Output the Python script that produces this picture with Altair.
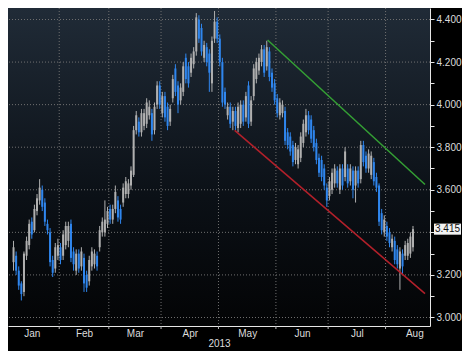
import json
import altair as alt
import pandas as pd

# ---------------- data ----------------
start_index = 3  # trading-day index of first candle (0 = 2 Jan 2013)

opens = [3.26, 3.29, 3.22, 3.16, 3.12, 3.29, 3.34, 3.45, 3.41, 3.50,
         3.55, 3.60, 3.54, 3.44, 3.40, 3.27, 3.23, 3.29, 3.33, 3.29,
         3.34, 3.36, 3.44, 3.31, 3.22, 3.30, 3.24, 3.28, 3.20, 3.17,
         3.24, 3.25, 3.29, 3.33, 3.40, 3.40, 3.44, 3.51, 3.46, 3.51,
         3.55, 3.51, 3.54, 3.58, 3.58, 3.62, 3.67, 3.88, 3.92, 3.87,
         3.90, 3.91, 3.95, 3.96, 3.88, 4.00, 4.09, 3.96, 4.04, 3.99,
         3.92, 4.03, 4.17, 4.09, 4.02, 4.06, 4.22, 4.18, 4.15, 4.19,
         4.25, 4.40, 4.36, 4.22, 4.27, 4.24, 4.10, 4.31, 4.39, 4.31,
         4.20, 4.06, 3.95, 3.99, 3.92, 3.97, 3.89, 3.91, 4.00, 3.94,
         4.09, 3.92, 4.04, 4.12, 4.16, 4.20, 4.26, 4.18, 4.25, 4.15,
         4.10, 4.03, 3.95, 3.96, 3.97, 3.87, 3.85, 3.81, 3.74, 3.72,
         3.75, 3.82, 3.87, 3.95, 3.93, 3.88, 3.82, 3.75, 3.74, 3.70,
         3.61, 3.57, 3.60, 3.63, 3.69, 3.60, 3.70, 3.66, 3.70, 3.64,
         3.69, 3.62, 3.69, 3.65, 3.81, 3.76, 3.70, 3.67, 3.73, 3.66,
         3.62, 3.49, 3.40, 3.43, 3.40, 3.33, 3.36, 3.32, 3.23, 3.30,
         3.29, 3.29, 3.30, 3.33]
highs = [3.36, 3.31, 3.24, 3.17, 3.31, 3.38, 3.46, 3.47, 3.53, 3.58,
         3.65, 3.62, 3.56, 3.46, 3.42, 3.29, 3.35, 3.37, 3.35, 3.41,
         3.45, 3.45, 3.46, 3.33, 3.32, 3.32, 3.33, 3.30, 3.22, 3.29,
         3.33, 3.32, 3.31, 3.43, 3.47, 3.55, 3.52, 3.53, 3.53, 3.62,
         3.57, 3.53, 3.63, 3.66, 3.65, 3.71, 3.90, 3.97, 3.94, 3.98,
         3.98, 4.03, 4.02, 3.98, 4.01, 4.11, 4.11, 4.06, 4.06, 4.01,
         4.00, 4.14, 4.19, 4.11, 4.10, 4.20, 4.24, 4.20, 4.24, 4.27,
         4.43, 4.42, 4.38, 4.30, 4.29, 4.26, 4.32, 4.44, 4.41, 4.33,
         4.22, 4.08, 4.01, 4.01, 3.99, 3.99, 4.01, 4.02, 4.02, 4.06,
         4.11, 4.04, 4.19, 4.22, 4.24, 4.28, 4.28, 4.30, 4.27, 4.17,
         4.12, 4.05, 4.03, 4.02, 3.99, 3.89, 3.87, 3.83, 3.82, 3.81,
         3.87, 3.93, 3.98, 3.97, 3.95, 3.90, 3.84, 3.77, 3.76, 3.72,
         3.63, 3.66, 3.70, 3.72, 3.71, 3.72, 3.72, 3.80, 3.72, 3.72,
         3.71, 3.71, 3.71, 3.83, 3.83, 3.78, 3.79, 3.78, 3.75, 3.68,
         3.63, 3.51, 3.48, 3.45, 3.42, 3.39, 3.38, 3.34, 3.33, 3.32,
         3.36, 3.37, 3.40, 3.43]
lows = [3.22, 3.20, 3.13, 3.08, 3.10, 3.27, 3.32, 3.37, 3.40, 3.48,
        3.53, 3.50, 3.43, 3.39, 3.24, 3.19, 3.21, 3.27, 3.25, 3.27,
        3.32, 3.33, 3.26, 3.22, 3.20, 3.21, 3.22, 3.12, 3.12, 3.15,
        3.22, 3.23, 3.22, 3.31, 3.38, 3.38, 3.42, 3.44, 3.44, 3.49,
        3.45, 3.44, 3.52, 3.56, 3.56, 3.60, 3.66, 3.86, 3.85, 3.85,
        3.88, 3.89, 3.93, 3.83, 3.86, 3.98, 3.98, 3.94, 3.92, 3.88,
        3.90, 4.01, 4.04, 3.96, 4.00, 4.04, 4.10, 4.08, 4.13, 4.17,
        4.23, 4.29, 4.23, 4.20, 4.18, 4.06, 4.06, 4.29, 4.29, 4.18,
        3.99, 3.98, 3.93, 3.89, 3.88, 3.88, 3.87, 3.89, 3.90, 3.92,
        3.89, 3.90, 4.02, 4.10, 4.14, 4.18, 4.13, 4.16, 4.11, 4.06,
        4.00, 3.94, 3.93, 3.94, 3.81, 3.79, 3.76, 3.71, 3.72, 3.70,
        3.73, 3.80, 3.85, 3.86, 3.82, 3.78, 3.72, 3.66, 3.64, 3.60,
        3.52, 3.55, 3.58, 3.61, 3.61, 3.58, 3.60, 3.64, 3.61, 3.62,
        3.56, 3.54, 3.61, 3.63, 3.71, 3.68, 3.68, 3.65, 3.62, 3.59,
        3.43, 3.39, 3.38, 3.36, 3.33, 3.31, 3.25, 3.23, 3.13, 3.20,
        3.27, 3.27, 3.28, 3.31]
closes = [3.33, 3.22, 3.15, 3.11, 3.30, 3.36, 3.44, 3.39, 3.51, 3.56,
          3.61, 3.52, 3.45, 3.41, 3.26, 3.21, 3.33, 3.34, 3.27, 3.39,
          3.43, 3.43, 3.28, 3.25, 3.30, 3.23, 3.31, 3.16, 3.14, 3.27,
          3.31, 3.30, 3.24, 3.41, 3.45, 3.46, 3.50, 3.46, 3.51, 3.59,
          3.47, 3.46, 3.61, 3.64, 3.63, 3.69, 3.88, 3.95, 3.87, 3.96,
          3.96, 4.01, 3.99, 3.86, 3.99, 4.09, 4.00, 4.04, 3.94, 3.90,
          3.98, 4.12, 4.06, 4.00, 4.08, 4.18, 4.12, 4.10, 4.22, 4.25,
          4.41, 4.31, 4.25, 4.28, 4.20, 4.15, 4.30, 4.39, 4.31, 4.20,
          4.01, 4.00, 3.99, 3.91, 3.97, 3.90, 3.99, 4.00, 3.92, 4.04,
          3.91, 4.02, 4.17, 4.20, 4.22, 4.26, 4.15, 4.27, 4.13, 4.08,
          4.02, 3.96, 4.01, 4.00, 3.83, 3.81, 3.78, 3.73, 3.80, 3.79,
          3.85, 3.91, 3.95, 3.88, 3.84, 3.80, 3.74, 3.68, 3.66, 3.62,
          3.55, 3.64, 3.68, 3.70, 3.63, 3.70, 3.62, 3.78, 3.63, 3.70,
          3.60, 3.69, 3.63, 3.81, 3.73, 3.70, 3.77, 3.76, 3.64, 3.61,
          3.45, 3.41, 3.46, 3.38, 3.35, 3.37, 3.27, 3.25, 3.31, 3.24,
          3.34, 3.35, 3.38, 3.415]

month_names = ["Jan", "Feb", "Mar", "Apr", "May", "Jun", "Jul", "Aug"]
month_starts = [0, 21, 40, 60, 82, 104, 124, 146, 168]  # trading-day index of 1st day
y_grid_values = [3.0, 3.2, 3.4, 3.6, 3.8, 4.0, 4.2, 4.4]
y_tick_values = [3.0, 3.1, 3.2, 3.3, 3.4, 3.5, 3.6, 3.7, 3.8, 3.9,
                 4.0, 4.1, 4.2, 4.3, 4.4]
green_x = [100.3, 160.6]
green_y = [4.304, 3.625]
red_x = [87.7, 160.6]
red_y = [3.879, 3.112]
last_price = 3.415
year_label = "2013"

# ---------------- tables ----------------
days = [start_index + k for k in range(len(closes))]
df = pd.DataFrame({"day": days, "open": opens, "high": highs,
                   "low": lows, "close": closes})
df["dir"] = ["down" if c < o else "up" for o, c in zip(opens, closes)]

boundaries = [s - 0.5 for s in month_starts[1:-1]]
mids = [(month_starts[k] + month_starts[k + 1] - 1) / 2 for k in range(len(month_names))]

W, H = 422, 318
xs = alt.Scale(domain=[2.8, 160.6], nice=False, zero=False)
ys = alt.Scale(domain=[2.96, 4.454], nice=False, zero=False)
cs = alt.Scale(domain=["up", "down"], range=["#b0b0b0", "#2f86ee"])

FONT = "Liberation Sans"
AX_COL = "#e6e6e6"
LAB_COL = "#dcdcdc"
GRID_COL = "#707070"

x_label_expr = "%s[indexof(%s, datum.value)]" % (json.dumps(month_names), json.dumps(mids))
y_label_expr = ("(abs(datum.value - 3.4) < 0.001 || round(datum.value * 10) % 2 != 0) "
                "? '' : format(datum.value, '.3f')")

x_axis = alt.Axis(values=mids, labelExpr=x_label_expr, tickSize=0, grid=False,
                  domainColor=AX_COL, labelColor=LAB_COL, labelFontSize=10,
                  labelFont=FONT, labelPadding=2, labelOverlap=False,
                  title=year_label, titleColor=LAB_COL, titleFontSize=10,
                  titleFont=FONT, titleFontWeight="normal", titlePadding=0)
y_axis = alt.Axis(orient="right", values=y_tick_values, labelExpr=y_label_expr,
                  tickSize=4, tickColor=AX_COL, domainColor=AX_COL, grid=False,
                  labelColor=LAB_COL, labelFontSize=10, labelFont=FONT,
                  labelPadding=2, labelOverlap=False, title=None)

one = pd.DataFrame({"a": [0]})

bg = alt.Chart(one).mark_rect(
    fill=alt.Gradient(gradient="linear",
                      stops=[alt.GradientStop(color="#202b37", offset=0),
                             alt.GradientStop(color="#0b1016", offset=0.6),
                             alt.GradientStop(color="#030405", offset=1)],
                      x1=0, x2=0, y1=0, y2=1)
).encode(x=alt.value(0), x2=alt.value(W), y=alt.value(0), y2=alt.value(H))

hgrid = alt.Chart(pd.DataFrame({"v": y_grid_values})).mark_rule(
    color=GRID_COL, strokeDash=[1, 2], strokeWidth=1
).encode(y=alt.Y("v:Q", scale=ys, axis=y_axis))

vgrid = alt.Chart(pd.DataFrame({"b": boundaries})).mark_rule(
    color=GRID_COL, strokeDash=[1, 2], strokeWidth=1
).encode(x=alt.X("b:Q", scale=xs, axis=x_axis))

vticks = alt.Chart(pd.DataFrame({"b": boundaries})).mark_rule(
    color="#bdbdbd", strokeWidth=1, clip=False
).encode(x=alt.X("b:Q", scale=xs, axis=x_axis), y=alt.value(H), y2=alt.value(H + 3))

wicks = alt.Chart(df).mark_rule(strokeWidth=1).encode(
    x=alt.X("day:Q", scale=xs, axis=x_axis),
    y=alt.Y("low:Q", scale=ys, axis=y_axis),
    y2="high:Q",
    color=alt.Color("dir:N", scale=cs, legend=None),
)

bodies = alt.Chart(df).mark_bar(width=2).encode(
    x=alt.X("day:Q", scale=xs, axis=x_axis),
    y=alt.Y("open:Q", scale=ys, axis=y_axis),
    y2="close:Q",
    color=alt.Color("dir:N", scale=cs, legend=None),
)

green = alt.Chart(pd.DataFrame({"x": green_x, "y": green_y})).mark_line(
    color="#34a034", strokeWidth=1.5, clip=True
).encode(x=alt.X("x:Q", scale=xs, axis=x_axis), y=alt.Y("y:Q", scale=ys, axis=y_axis))

red = alt.Chart(pd.DataFrame({"x": red_x, "y": red_y})).mark_line(
    color="#b3202a", strokeWidth=1.5, clip=True
).encode(x=alt.X("x:Q", scale=xs, axis=x_axis), y=alt.Y("y:Q", scale=ys, axis=y_axis))

lp = pd.DataFrame({"v": [last_price], "t": ["%.3f" % last_price]})
box = alt.Chart(lp).mark_point(
    shape="M-1,-0.41L1,-0.41L1,0.41L-1,0.41Z", size=729, filled=True,
    color="#f2f2f2", opacity=1, clip=False
).encode(x=alt.value(W + 17.5), y=alt.Y("v:Q", scale=ys, axis=y_axis))
box_text = alt.Chart(lp).mark_text(
    color="#111111", fontSize=10, font=FONT, align="center", baseline="middle", clip=False
).encode(x=alt.value(W + 17.5), y=alt.Y("v:Q", scale=ys, axis=y_axis), text="t:N")

chart = alt.layer(
    bg, hgrid, vgrid, vticks, wicks, bodies, green, red, box, box_text
).properties(
    width=W, height=H, background="#000000",
    padding={"left": 0, "top": 0, "right": 32, "bottom": 25},
    autosize=alt.AutoSizeParams(type="none"),
).configure_view(stroke=None)

chart.save("out.html", embed_options={"renderer": "svg", "actions": False})
